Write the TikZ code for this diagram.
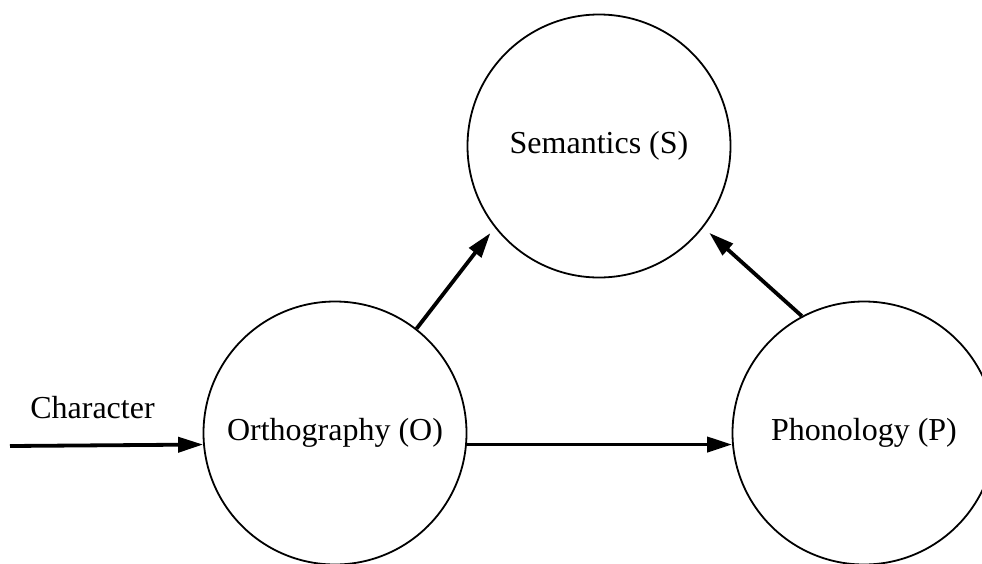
\documentclass[tikz,border=0pt]{standalone}
\usepackage{fontspec}
\setmainfont{Liberation Serif}
\usetikzlibrary{arrows.meta}
\begin{document}
\begin{tikzpicture}[x=1pt,y=-1pt,
  conc/.style={circle,draw,line width=1.8pt,minimum size=263pt,inner sep=0pt,
    font=\fontsize{32}{36}\selectfont},
  link/.style={line width=3.8pt,-{Triangle[length=25pt,width=15pt]}},
  lbl/.style={font=\fontsize{32}{36}\selectfont,inner sep=0pt}]
\clip (0,0) rectangle (982,563);
\useasboundingbox (0,0) rectangle (982,563);
\node[conc] (S) at (599,146) {Semantics (S)};
\node[conc] (O) at (335,433) {Orthography (O)};
\node[conc] (P) at (864,433) {Phonology (P)};
\coordinate (in) at (10,446);
\node[lbl,anchor=base] (char) at (92.5,418) {Character};
\draw[link] (in) -- (O.185.7);
\draw[link] (O.-5.7) -- (P.185.7);
\draw[link,shorten >=7pt] (O.52) -- (S.218);
\draw[link,shorten >=8pt] (P.118) -- (S.-38);
\end{tikzpicture}
\end{document}
